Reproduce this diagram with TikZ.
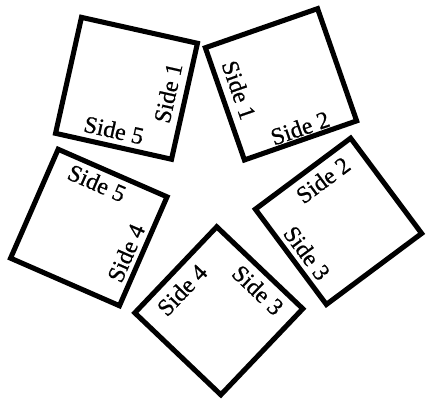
\documentclass[tikz,border=0pt]{standalone}
\usepackage{fontspec}
\setmainfont{Liberation Serif}[FakeBold=0.7]

\tikzset{
  tile/.style={draw, line width=3.6pt, minimum size=2.97cm, inner sep=0pt},
  side/.style={inner sep=0pt, font=\fontsize{17}{20}\selectfont}
}

\begin{document}
\begin{tikzpicture}[x=0.025cm, y=-0.025cm]
\useasboundingbox (0,0) rectangle (427,403);

% the five tiles
\node[tile, rotate=-12.6] (tileA) at (126.5,88.3) {};
\node[tile, rotate=19.2] (tileB) at (281,84.3) {};
\node[tile, rotate=-23.6] (tileC) at (88.8,227.5) {};
\node[tile, rotate=-43.6] (tileD) at (218.8,310.8) {};
\node[tile, rotate=36.7] (tileE) at (338.5,221.3) {};

% labels of the sides
\node[side, rotate=-12.6] (a5) at (114,130) {Side 5};
\node[side, rotate=77.4] (a1) at (168,93) {Side 1};

\node[side, rotate=-70.8] (b1) at (239,90) {Side 1};
\node[side, rotate=19.2] (b2) at (300,128) {Side 2};

\node[side, rotate=-23.6] (c5) at (97,183) {Side 5};
\node[side, rotate=66.4] (c4) at (126,253) {Side 4};

\node[side, rotate=46.4] (d4) at (182,290) {Side 4};
\node[side, rotate=-43.6] (d3) at (258,290) {Side 3};

\node[side, rotate=36.7] (e2) at (323,180) {Side 2};
\node[side, rotate=-53.3] (e3) at (307,253) {Side 3};
\end{tikzpicture}
\end{document}
